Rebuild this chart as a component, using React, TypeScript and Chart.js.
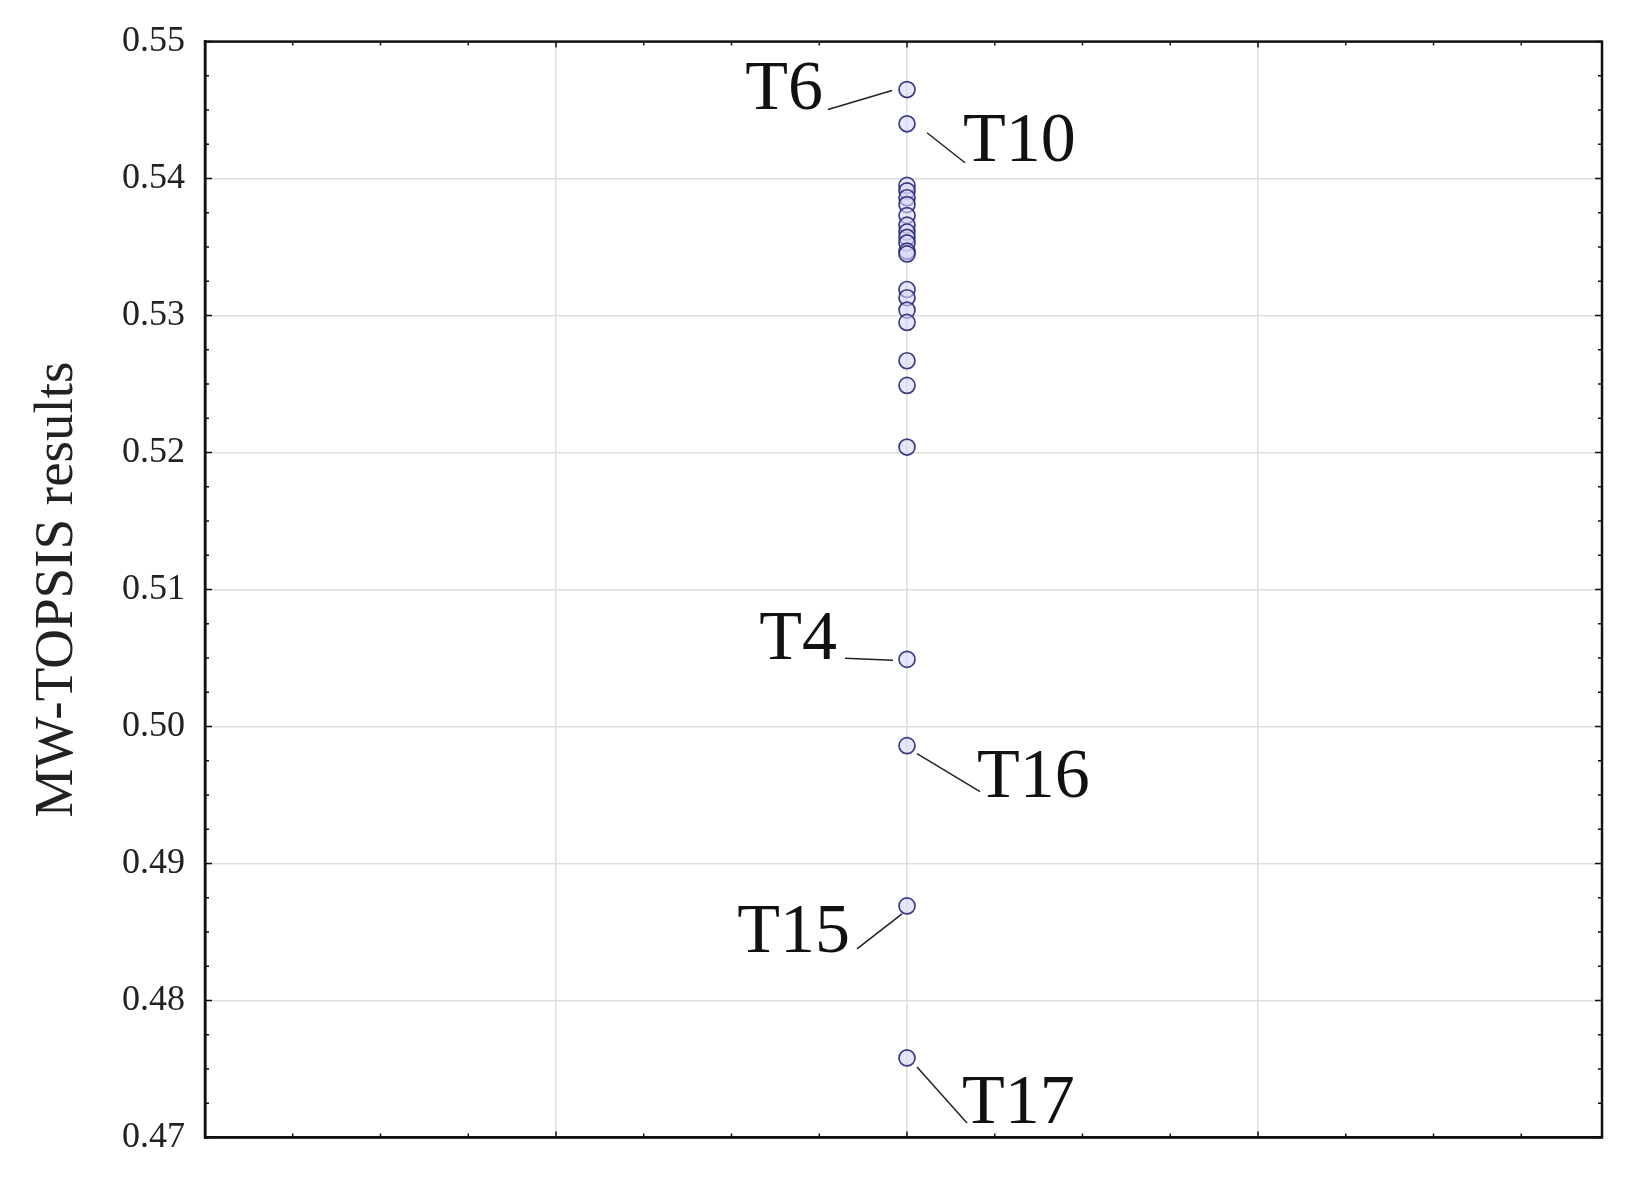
import React, { useEffect, useRef } from "react";
import { Chart, registerables } from "chart.js";

Chart.register(...registerables);

// Data: every alternative sits at the same x position (category centre = 2)
const xPosition = 2;
const labeledNames = ["T6", "T10", "T4", "T16", "T15", "T17"];
const labeledValues = [0.5465, 0.544, 0.5049, 0.4986, 0.4869, 0.4758];
const otherValues = [
  0.5395, 0.5391, 0.5386, 0.5381, 0.5373, 0.5366, 0.5361, 0.5357, 0.5353,
  0.5347, 0.5345, 0.5319, 0.5313, 0.5304, 0.5295, 0.5267, 0.5249, 0.5204,
];
const yTickValues = [0.47, 0.48, 0.49, 0.5, 0.51, 0.52, 0.53, 0.54, 0.55];
const yTitle = "MW-TOPSIS results";

// Label placement (pixel offsets relative to the point) — style, not data
const labelLayout: Record<string, { dx: number; dy: number; align: CanvasTextAlign; l1: [number, number]; l2: [number, number] }> = {
  T6: { dx: -84, dy: 19, align: "right", l1: [-79, 20], l2: [-15, 1] },
  T10: { dx: 56, dy: 37, align: "left", l1: [20, 9], l2: [58, 39] },
  T4: { dx: -70, dy: 0, align: "right", l1: [-62, -1], l2: [-14, 1] },
  T16: { dx: 70, dy: 51, align: "left", l1: [10, 8], l2: [73, 46] },
  T15: { dx: -57, dy: 46, align: "right", l1: [-50, 43], l2: [-5, 8] },
  T17: { dx: 55, dy: 65, align: "left", l1: [10, 9], l2: [60, 65] },
};

const W = 1630;
const H = 1179;

const frameAndTicks = {
  id: "frameAndTicks",
  afterDraw(chart: any) {
    const { ctx, chartArea: a, scales } = chart;
    const xs = scales.x;
    const ys = scales.y;
    ctx.save();
    ctx.strokeStyle = "#111";
    // minor inward ticks
    ctx.lineWidth = 1.5;
    for (let v = 0.47; v <= 0.5501; v += 0.0025) {
      const y = ys.getPixelForValue(v);
      const major = Math.abs(v * 100 - Math.round(v * 100)) < 1e-6;
      const len = major ? 7 : 4;
      ctx.beginPath();
      ctx.moveTo(a.left, y);
      ctx.lineTo(a.left + len, y);
      ctx.moveTo(a.right, y);
      ctx.lineTo(a.right - len, y);
      ctx.stroke();
    }
    for (let v = 0; v <= xs.max + 1e-6; v += 0.25) {
      const x = xs.getPixelForValue(v);
      const major = Math.abs(v - Math.round(v)) < 1e-6;
      const len = major ? 6 : 4;
      ctx.beginPath();
      ctx.moveTo(x, a.bottom);
      ctx.lineTo(x, a.bottom - len);
      ctx.moveTo(x, a.top);
      ctx.lineTo(x, a.top + len);
      ctx.stroke();
    }
    // frame
    ctx.lineWidth = 2.5;
    ctx.strokeRect(a.left, a.top, a.right - a.left, a.bottom - a.top);

    // labels with leader lines
    const meta = chart.getDatasetMeta(0);
    ctx.font = "70px 'Liberation Serif', 'Times New Roman', serif";
    ctx.fillStyle = "#111";
    ctx.textBaseline = "alphabetic";
    labeledNames.forEach((name, i) => {
      const el = meta.data[i];
      const px = el.x;
      const py = el.y;
      const lay = labelLayout[name];
      ctx.lineWidth = 1.5;
      ctx.strokeStyle = "#222";
      ctx.beginPath();
      ctx.moveTo(px + lay.l1[0], py + lay.l1[1]);
      ctx.lineTo(px + lay.l2[0], py + lay.l2[1]);
      ctx.stroke();
      ctx.textAlign = lay.align;
      ctx.fillText(name, px + lay.dx, py + lay.dy);
    });
    ctx.restore();
  },
};

export default function App() {
  const ref = useRef<HTMLCanvasElement>(null);
  useEffect(() => {
    if (!ref.current) return;
    const allValues = [...labeledValues, ...otherValues];
    const chart = new Chart(ref.current, {
      type: "scatter",
      data: {
        datasets: [
          {
            data: allValues.map((v) => ({ x: xPosition, y: v })),
            pointRadius: 8,
            pointBorderWidth: 1.7,
            borderColor: "rgba(40,40,120,0.9)",
            backgroundColor: "rgba(215,215,248,0.6)",
          },
        ],
      },
      options: {
        responsive: false,
        animation: false,
        layout: { padding: { left: 0, top: 38, right: 28, bottom: 0 } },
        plugins: { legend: { display: false }, tooltip: { enabled: false } },
        scales: {
          x: {
            type: "linear",
            min: 0,
            max: 3.98,
            ticks: { stepSize: 1, display: false },
            grid: { color: "#dedede", lineWidth: 1.5, drawTicks: false },
            border: { color: "#111", width: 2.5 },
            afterFit: (s: any) => {
              s.height = 36;
            },
          },
          y: {
            type: "linear",
            min: yTickValues[0],
            max: yTickValues[yTickValues.length - 1],
            afterBuildTicks: (s: any) => {
              s.ticks = yTickValues.map((v) => ({ value: v }));
            },
            ticks: {
              padding: 20,
              color: "#222",
              font: { family: "'Liberation Serif', 'Times New Roman', serif", size: 36 },
              callback: (v: any) => Number(v).toFixed(2),
            },
            grid: { color: "#dedede", lineWidth: 1.5, drawTicks: false },
            border: { color: "#111", width: 2.5 },
            title: {
              display: true,
              text: yTitle,
              color: "#222",
              padding: { top: 25, bottom: 0 },
              font: { family: "'Liberation Serif', 'Times New Roman', serif", size: 55 },
            },
            afterFit: (s: any) => {
              s.width = 205;
            },
          },
        },
      },
      plugins: [frameAndTicks],
    });
    return () => chart.destroy();
  }, []);
  return (
    <div style={{ position: "absolute", left: 0, top: 0, width: W, height: H, background: "#fff" }}>
      <canvas ref={ref} width={W} height={H} style={{ display: "block", width: W, height: H }} />
    </div>
  );
}
